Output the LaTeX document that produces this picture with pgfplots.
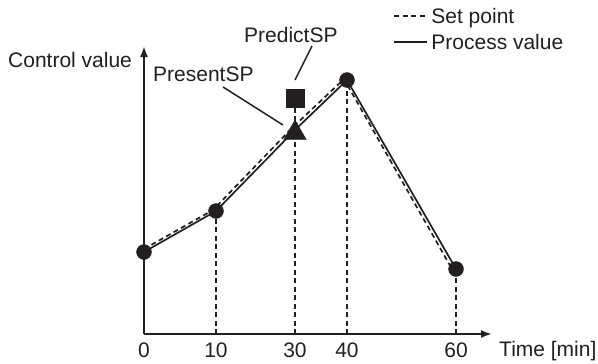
\documentclass[border=0pt]{standalone}
\usepackage{pgfplots}
\pgfplotsset{compat=1.18}
\usepackage{fontspec}
\setmainfont{Liberation Sans}
\usetikzlibrary{arrows.meta}
\definecolor{ink}{HTML}{231F20}
\begin{document}
\begin{tikzpicture}[font=\fontsize{21bp}{25bp}\selectfont]
\begin{axis}[
  x=1bp, y=1bp,
  xmin=0, xmax=348, ymin=0, ymax=288,
  axis x line=bottom, axis y line=left,
  axis line style={ink, line width=2bp, -{Latex[length=11bp,width=8bp]}},
  xtick={0,72,151,203,312}, xticklabels={0,10,30,40,60},
  ytick=\empty,
  major tick length=0pt,
  xticklabel style={anchor=base, text=ink, inner sep=0pt, yshift=-23bp},
  clip=false,
  legend style={draw=none, fill=none, inner sep=0pt, at={(axis cs:249,326)}, anchor=north west,
    font=\fontsize{21bp}{25bp}\selectfont, text=ink,
    nodes={inner sep=0pt, text height=15bp, text depth=1bp},
    cells={anchor=west}, row sep=10bp, column sep=3.5bp},
  legend image code/.code={\draw[#1] (0bp,0bp) -- (33bp,0bp);},
]
% bounding box of the whole picture
\path (axis cs:-144,-29) rectangle (axis cs:454,334);

% set point (dashed) and process value (solid)
\addplot[ink, line width=1.7bp, dash pattern=on 5bp off 3.5bp] coordinates {(0,85) (69,124) (148,206) (200,255) (308,65)};
\addlegendentry{Set point}
\addplot[ink, line width=1.7bp] coordinates {(0,82) (72,123) (151,204) (203,254) (312,65)};
\addlegendentry{Process value}

% vertical drop lines
\addplot[ink, line width=2.3bp, dash pattern=on 5bp off 3.5bp, forget plot] coordinates {(72,0) (72,123)};
\addplot[ink, line width=2.3bp, dash pattern=on 5bp off 3.5bp, forget plot] coordinates {(151,0) (151,236)};
\addplot[ink, line width=2.3bp, dash pattern=on 5bp off 3.5bp, forget plot] coordinates {(203,0) (203,254)};
\addplot[ink, line width=2.3bp, dash pattern=on 5bp off 3.5bp, forget plot] coordinates {(312,0) (312,65)};

% markers
\addplot[only marks, mark=*, mark size=7.5bp, ink, forget plot] coordinates {(0,82) (72,123) (203,254) (312,65)};
\addplot[only marks, mark=triangle*, mark size=13bp, ink, forget plot] coordinates {(151,201)};
\addplot[only marks, mark=square*, mark size=9bp, ink, forget plot] coordinates {(151,236)};

% labels
\node[anchor=base west, text=ink, inner sep=0pt] at (axis cs:-136,267) {Control value};
\node[anchor=base west, text=ink, inner sep=0pt] at (axis cs:355,-22) {Time [min]};
\node[anchor=base west, text=ink, inner sep=0pt] at (axis cs:9,253) {PresentSP};
\node[anchor=base west, text=ink, inner sep=0pt] at (axis cs:100,292) {PredictSP};
\draw[ink, line width=1.5bp] (axis cs:79,247) -- (axis cs:139,209);
\draw[ink, line width=1.5bp] (axis cs:168,288) -- (axis cs:151,254);
\end{axis}
\end{tikzpicture}
\end{document}
